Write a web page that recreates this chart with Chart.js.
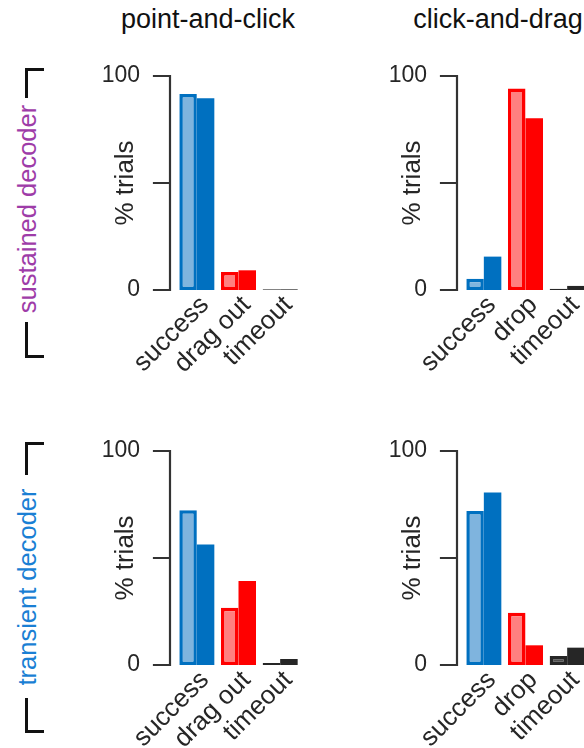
<!DOCTYPE html>
<html>
<head>
<meta charset="utf-8">
<title>Trial outcomes by decoder and task</title>
<script src="https://cdn.jsdelivr.net/npm/chart.js@4.4.1/dist/chart.umd.min.js"></script>
<style>
  html, body { margin: 0; padding: 0; background: #fff; overflow: hidden; }
  body { width: 584px; height: 748px; position: relative; font-family: "Liberation Sans", Arial, Helvetica, sans-serif; }
  canvas { position: absolute; }
  .title { position: absolute; top: 4px; font-size: 27px; line-height: 30px; color: #111; white-space: nowrap; transform: translateX(-50%); }
  .rowlab { position: absolute; font-size: 25.5px; line-height: 30px; white-space: nowrap; transform: translate(-50%, -50%) rotate(-90deg); }
  .brk { position: absolute; border: 0 solid #111; width: 16px; }
  .brk.top { border-top-width: 3px; border-left-width: 3px; }
  .brk.bot { border-bottom-width: 3px; border-left-width: 3px; }
</style>
</head>
<body>

<div class="title" style="left:208px">point-and-click</div>
<div class="title" style="left:498px">click-and-drag</div>

<div class="brk top" style="left:25px; top:68px;  height:27px"></div>
<div class="rowlab" style="left:27px; top:209px; color:#9e3ca8">sustained decoder</div>
<div class="brk bot" style="left:25px; top:322px; height:33px"></div>

<div class="brk top" style="left:25px; top:442px; height:30px"></div>
<div class="rowlab" style="left:27px; top:587px; color:#1a7fd4">transient decoder</div>
<div class="brk bot" style="left:25px; top:698px; height:32px"></div>

<canvas id="sustPoint" width="210" height="320" style="left:100px; top:60px"></canvas>
<canvas id="sustDrag"  width="210" height="320" style="left:387px; top:60px"></canvas>
<canvas id="tranPoint" width="210" height="320" style="left:100px; top:435px"></canvas>
<canvas id="tranDrag"  width="210" height="320" style="left:387px; top:435px"></canvas>

<script>
/* ---- data (% trials) ---- */
const pointLabels = ['success', 'drag out', 'timeout'];
const dragLabels  = ['success', 'drop', 'timeout'];

const yTicks     = [0, 50, 100];
const yTickText  = ['0', '', '100'];

// first (light, outlined) and second (solid) bar of each outcome
const sustPointA = [91.6, 8.4, 0.3];
const sustPointB = [89.6, 9.2, 0.3];
const sustDragA  = [5.3, 94.2, 0.6];
const sustDragB  = [15.6, 80.2, 1.9];
const tranPointA = [72.3, 26.7, 0.9];
const tranPointB = [56.3, 39.3, 2.8];
const tranDragA  = [72.0, 24.4, 4.2];
const tranDragB  = [80.6, 9.2, 8.1];

/* ---- colours per outcome: success / failure / timeout ---- */
const darkCols  = ['#0070c0', '#ff0000', '#262626'];
const lightCols = ['#7fb4de', '#ff8080', '#4d4d4d'];
const ink = '#262626';
const fontFam = "'Liberation Sans', Arial, Helvetica, sans-serif";

/* draws the detached y spine with its three tick marks */
const spinePlugin = {
  id: 'spine',
  afterDraw(chart) {
    const { ctx, chartArea, scales } = chart;
    const y = scales.y;
    const x0 = chartArea.left - 6;
    ctx.save();
    ctx.strokeStyle = '#333';
    ctx.lineWidth = 2.2;
    ctx.lineCap = 'square';
    ctx.beginPath();
    ctx.moveTo(x0, y.getPixelForValue(100));
    ctx.lineTo(x0, y.getPixelForValue(0));
    yTicks.forEach(v => {
      const py = y.getPixelForValue(v);
      ctx.moveTo(x0 - 16, py);
      ctx.lineTo(x0, py);
    });
    ctx.stroke();
    ctx.restore();
  }
};

function makePanel(id, labels, a, b) {
  const el = document.getElementById(id);
  if (!el || typeof Chart === 'undefined') return;
  new Chart(el, {
    type: 'bar',
    data: {
      labels: labels,
      datasets: [
        { data: a, backgroundColor: lightCols, borderColor: darkCols, borderWidth: 3.5, borderSkipped: false },
        { data: b, backgroundColor: darkCols, borderColor: darkCols, borderWidth: 0 }
      ]
    },
    options: {
      responsive: false,
      animation: false,
      devicePixelRatio: 1,
      layout: { padding: { left: 0, top: 16, right: 9, bottom: 0 } },
      datasets: { bar: { categoryPercentage: 0.84, barPercentage: 1.0 } },
      plugins: { legend: { display: false }, tooltip: { enabled: false } },
      scales: {
        x: {
          grid: { display: false },
          border: { display: false },
          ticks: {
            color: ink, font: { family: fontFam, size: 26 },
            minRotation: 45, maxRotation: 45, autoSkip: false,
            padding: -8, labelOffset: 8
          },
          afterFit: s => {
            s.height = 90;
            s.paddingLeft = 0; s.paddingRight = 0;
          }
        },
        y: {
          min: 0, max: 100,
          afterBuildTicks: s => { s.ticks = yTicks.map(v => ({ value: v })); },
          grid: { display: false },
          border: { display: false },
          ticks: {
            color: ink, font: { family: fontFam, size: 23 }, padding: 28,
            callback: v => yTickText[yTicks.indexOf(v)]
          },
          title: {
            display: true, text: '% trials', color: ink,
            font: { family: fontFam, size: 26 }, padding: { top: 10, bottom: 0 }
          },
          afterFit: s => {
            s.width = 76;
            s.paddingTop = 0; s.paddingBottom = 0;
          }
        }
      }
    },
    plugins: [spinePlugin]
  });
}

makePanel('sustPoint', pointLabels, sustPointA, sustPointB);
makePanel('sustDrag',  dragLabels,  sustDragA,  sustDragB);
makePanel('tranPoint', pointLabels, tranPointA, tranPointB);
makePanel('tranDrag',  dragLabels,  tranDragA,  tranDragB);
</script>
</body>
</html>
